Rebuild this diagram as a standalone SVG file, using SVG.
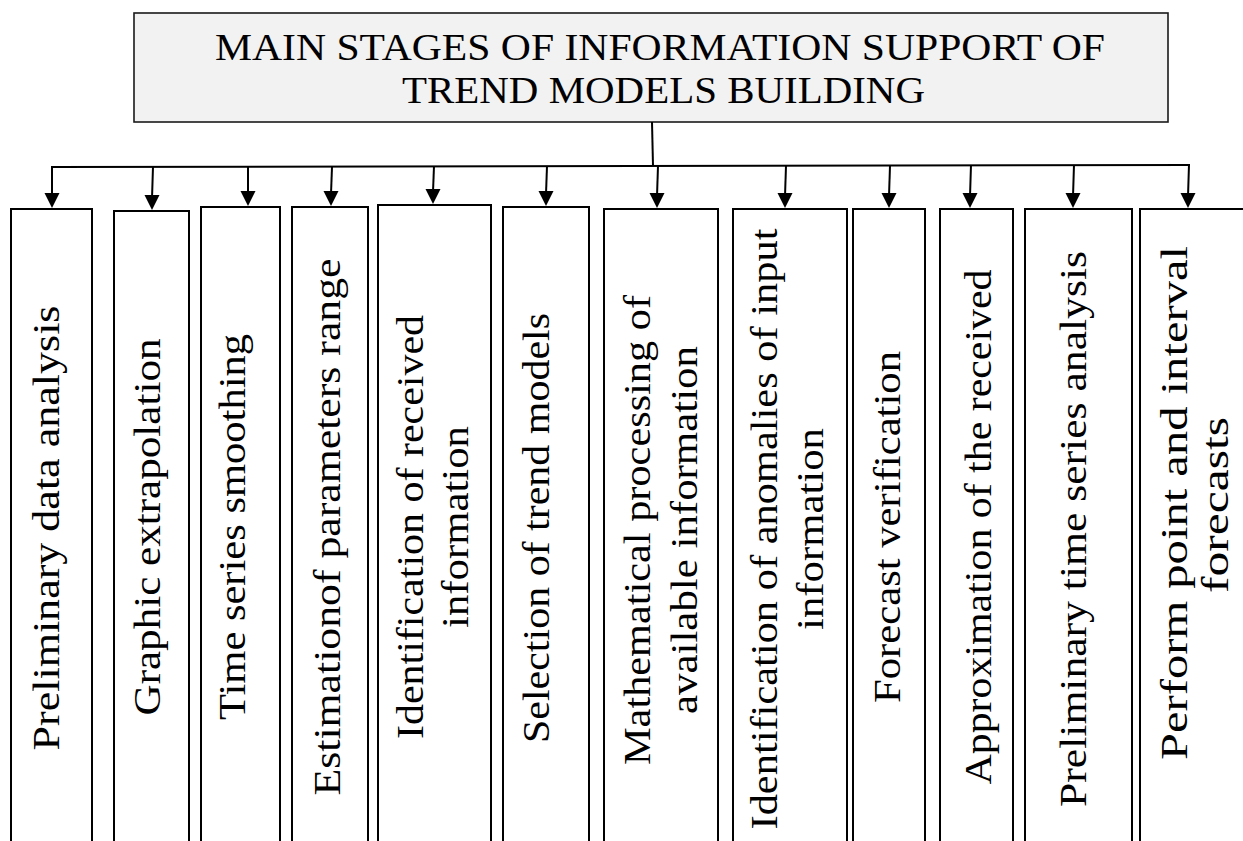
<svg xmlns="http://www.w3.org/2000/svg" xmlns:xlink="http://www.w3.org/1999/xlink" width="1243" height="841" viewBox="0 0 1243 841">
  <style>
    .title-box { fill: #f2f2f2; stroke: #1a1a1a; stroke-width: 1.6; }
    .stage { fill: #ffffff; stroke: #000000; stroke-width: 2; }
    .wire { fill: none; stroke: #000000; stroke-width: 2; }
    .head { fill: #000000; }
    .title { font-family: "Liberation Serif", "Times New Roman", serif; font-size: 38px; fill: #000; }
    .label { font-family: "Liberation Serif", "Times New Roman", serif; font-size: 37px; fill: #000; text-anchor: middle; }
  </style>
  <defs>
    <!-- downward arrowhead, tip at the origin -->
    <path id="head" class="head" d="M-7.5,-15 L7.5,-15 L0,0 z"/>
  </defs>

  <rect width="1243" height="841" fill="#ffffff"/>

  <!-- heading block -->
  <g id="title">
    <rect class="title-box" x="134" y="13" width="1034" height="109"/>
    <text class="title" x="215" y="60" textLength="890" lengthAdjust="spacingAndGlyphs">MAIN STAGES OF INFORMATION SUPPORT OF</text>
    <text class="title" x="402" y="103" textLength="523" lengthAdjust="spacingAndGlyphs">TREND MODELS BUILDING</text>
  </g>

  <!-- distribution bus and arrows to each stage -->
  <g id="connectors">
    <path class="wire" d="M652,122 L653,166"/>
    <path class="wire" d="M51,167 L1190,165"/>
    <path class="wire" d="M52,167 L52,196"/>
    <use xlink:href="#head" x="52" y="208"/>
    <path class="wire" d="M153,167 L152,198"/>
    <use xlink:href="#head" x="152" y="210"/>
    <path class="wire" d="M248,167 L248,194"/>
    <use xlink:href="#head" x="248" y="206"/>
    <path class="wire" d="M332,167 L331,194"/>
    <use xlink:href="#head" x="331" y="206"/>
    <path class="wire" d="M434,166 L433,192"/>
    <use xlink:href="#head" x="433" y="204"/>
    <path class="wire" d="M547,166 L546,194"/>
    <use xlink:href="#head" x="546" y="206"/>
    <path class="wire" d="M658,166 L657,196"/>
    <use xlink:href="#head" x="657" y="208"/>
    <path class="wire" d="M786,166 L785,196"/>
    <use xlink:href="#head" x="785" y="208"/>
    <path class="wire" d="M890,166 L889,196"/>
    <use xlink:href="#head" x="889" y="208"/>
    <path class="wire" d="M971,165 L970,196"/>
    <use xlink:href="#head" x="970" y="208"/>
    <path class="wire" d="M1074,165 L1073,196"/>
    <use xlink:href="#head" x="1073" y="208"/>
    <path class="wire" d="M1189,165 L1188,196"/>
    <use xlink:href="#head" x="1188" y="208"/>
  </g>

  <!-- stage columns, open at the bottom of the sheet -->
  <g id="stage-1">
    <rect class="stage" x="11" y="209" width="81" height="660"/>
    <text class="label" transform="translate(59,528) rotate(-90)" textLength="445" lengthAdjust="spacingAndGlyphs">Preliminary data analysis</text>
  </g>
  <g id="stage-2">
    <rect class="stage" x="114" y="211" width="75" height="660"/>
    <text class="label" transform="translate(160,527) rotate(-90)" textLength="377" lengthAdjust="spacingAndGlyphs">Graphic extrapolation</text>
  </g>
  <g id="stage-3">
    <rect class="stage" x="201" y="207" width="79" height="660"/>
    <text class="label" transform="translate(245,527) rotate(-90)" textLength="386" lengthAdjust="spacingAndGlyphs">Time series smoothing</text>
  </g>
  <g id="stage-4">
    <rect class="stage" x="292" y="207" width="76" height="660"/>
    <text class="label" transform="translate(340,527) rotate(-90)" textLength="537" lengthAdjust="spacingAndGlyphs">Estimationof parameters range</text>
  </g>
  <g id="stage-5">
    <rect class="stage" x="378" y="205" width="113" height="660"/>
    <text class="label" transform="translate(423,527) rotate(-90)" textLength="424" lengthAdjust="spacingAndGlyphs">Identification of received</text>
    <text class="label" transform="translate(468,527) rotate(-90)" textLength="202" lengthAdjust="spacingAndGlyphs">information</text>
  </g>
  <g id="stage-6">
    <rect class="stage" x="503" y="207" width="86" height="660"/>
    <text class="label" transform="translate(549,528) rotate(-90)" textLength="430" lengthAdjust="spacingAndGlyphs">Selection of trend models</text>
  </g>
  <g id="stage-7">
    <rect class="stage" x="604" y="209" width="114" height="660"/>
    <text class="label" transform="translate(650,530) rotate(-90)" textLength="470" lengthAdjust="spacingAndGlyphs">Mathematical processing of</text>
    <text class="label" transform="translate(697,530) rotate(-90)" textLength="368" lengthAdjust="spacingAndGlyphs">available information</text>
  </g>
  <g id="stage-8">
    <rect class="stage" x="733" y="209" width="114" height="660"/>
    <text class="label" transform="translate(777,529) rotate(-90)" textLength="601" lengthAdjust="spacingAndGlyphs">Identification of anomalies of input</text>
    <text class="label" transform="translate(823,529) rotate(-90)" textLength="202" lengthAdjust="spacingAndGlyphs">information</text>
  </g>
  <g id="stage-9">
    <rect class="stage" x="853" y="209" width="72" height="660"/>
    <text class="label" transform="translate(900,527) rotate(-90)" textLength="352" lengthAdjust="spacingAndGlyphs">Forecast verification</text>
  </g>
  <g id="stage-10">
    <rect class="stage" x="940" y="209" width="73" height="660"/>
    <text class="label" transform="translate(991,527) rotate(-90)" textLength="515" lengthAdjust="spacingAndGlyphs">Approximation of the received</text>
  </g>
  <g id="stage-11">
    <rect class="stage" x="1025" y="209" width="107" height="660"/>
    <text class="label" transform="translate(1086,529) rotate(-90)" textLength="556" lengthAdjust="spacingAndGlyphs">Preliminary time series analysis</text>
  </g>
  <g id="stage-12">
    <rect class="stage" x="1140" y="209" width="130" height="660"/>
    <text class="label" transform="translate(1187,503) rotate(-90)" textLength="514" lengthAdjust="spacingAndGlyphs">Perform point and interval</text>
    <text class="label" transform="translate(1228,505) rotate(-90)" textLength="176" lengthAdjust="spacingAndGlyphs">forecasts</text>
  </g>
</svg>
